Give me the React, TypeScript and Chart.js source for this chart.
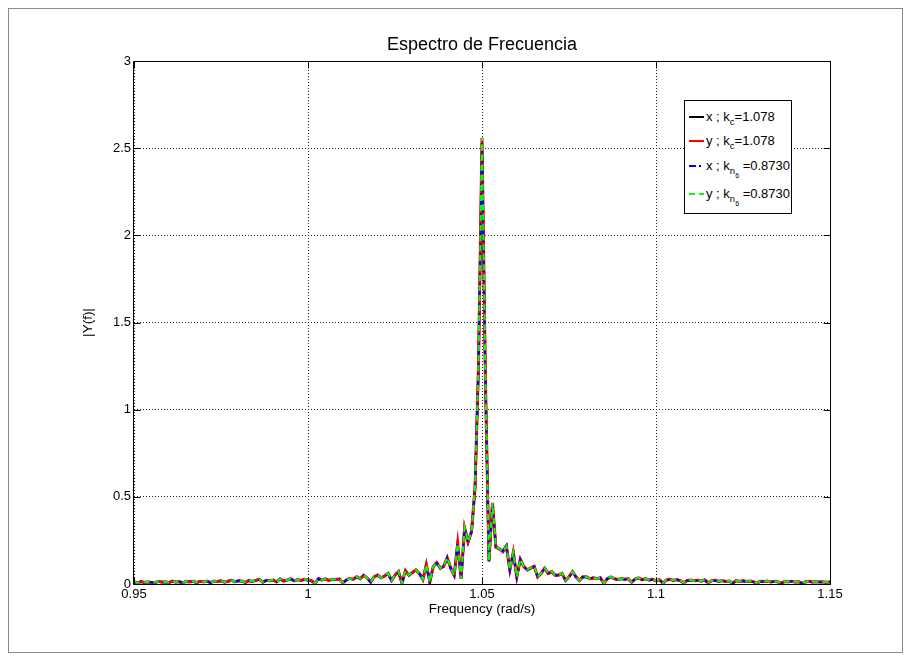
import React, { useEffect, useRef } from 'react';
import { Chart, registerables } from 'chart.js';

Chart.register(...registerables);

const chartTitle = 'Espectro de Frecuencia';
const xAxisTitle = 'Frequency (rad/s)';
const yAxisTitle = '|Y(f)|';

const freqStart = 0.95;
const freqStep = 0.001;

const magXkc = [
  0.012, 0.005, 0.015, 0.008, 0.012, 0.010, 0.006, 0.014, 0.010, 0.012,
  0.007, 0.015, 0.011, 0.013, 0.006, 0.016, 0.012, 0.014, 0.008, 0.015,
  0.013, 0.016, 0.007, 0.017, 0.014, 0.018, 0.010, 0.015, 0.022, 0.012,
  0.018, 0.016, 0.008, 0.019, 0.015, 0.020, 0.026, 0.010, 0.020, 0.018,
  0.022, 0.012, 0.028, 0.016, 0.022, 0.030, 0.018, 0.024, 0.020, 0.026,
  0.022, 0.018, 0.004, 0.030, 0.022, 0.028, 0.020, 0.026, 0.025, 0.028,
  0.006, 0.022, 0.032, 0.026, 0.040, 0.030, 0.050, 0.035, 0.010, 0.040,
  0.050, 0.035, 0.045, 0.060, 0.020, 0.050, 0.070, 0.004, 0.075, 0.050,
  0.065, 0.080, 0.060, 0.025, 0.110, 0.010, 0.100, 0.120, 0.090, 0.100,
  0.150, 0.090, 0.050, 0.230, 0.030, 0.320, 0.240, 0.300, 0.550, 1.250,
  2.530, 1.150, 0.130, 0.460, 0.210, 0.200, 0.190, 0.220, 0.080, 0.180,
  0.040, 0.140, 0.100, 0.080, 0.090, 0.100, 0.040, 0.060, 0.090, 0.060,
  0.070, 0.050, 0.050, 0.060, 0.020, 0.040, 0.070, 0.040, 0.020, 0.040,
  0.040, 0.030, 0.035, 0.030, 0.035, 0.004, 0.030, 0.040, 0.030, 0.025,
  0.030, 0.026, 0.030, 0.010, 0.028, 0.034, 0.024, 0.030, 0.022, 0.026,
  0.018, 0.024, 0.004, 0.022, 0.026, 0.020, 0.024, 0.018, 0.006, 0.020,
  0.022, 0.018, 0.020, 0.016, 0.022, 0.006, 0.018, 0.020, 0.015, 0.019,
  0.014, 0.016, 0.004, 0.018, 0.015, 0.017, 0.013, 0.016, 0.012, 0.005,
  0.015, 0.013, 0.016, 0.011, 0.014, 0.012, 0.004, 0.014, 0.012, 0.015,
  0.010, 0.013, 0.003, 0.012, 0.014, 0.010, 0.013, 0.011, 0.012, 0.009, 0.012,
];

const magYkc = [
  0.014, 0.006, 0.013, 0.010, 0.012, 0.009, 0.008, 0.015, 0.011, 0.013,
  0.008, 0.016, 0.010, 0.014, 0.007, 0.015, 0.013, 0.015, 0.009, 0.016,
  0.012, 0.017, 0.008, 0.016, 0.015, 0.019, 0.011, 0.016, 0.021, 0.013,
  0.019, 0.017, 0.009, 0.020, 0.016, 0.021, 0.027, 0.011, 0.021, 0.019,
  0.023, 0.013, 0.029, 0.017, 0.023, 0.031, 0.019, 0.025, 0.021, 0.027,
  0.023, 0.019, 0.005, 0.031, 0.023, 0.029, 0.021, 0.027, 0.026, 0.029,
  0.007, 0.023, 0.033, 0.027, 0.041, 0.031, 0.051, 0.036, 0.011, 0.041,
  0.051, 0.036, 0.046, 0.061, 0.021, 0.051, 0.072, 0.005, 0.077, 0.051,
  0.066, 0.082, 0.061, 0.026, 0.112, 0.011, 0.102, 0.122, 0.092, 0.102,
  0.152, 0.092, 0.051, 0.232, 0.031, 0.322, 0.242, 0.302, 0.555, 1.260,
  2.560, 1.160, 0.132, 0.465, 0.212, 0.203, 0.185, 0.215, 0.082, 0.182,
  0.041, 0.142, 0.101, 0.081, 0.092, 0.101, 0.041, 0.062, 0.091, 0.061,
  0.071, 0.051, 0.052, 0.061, 0.021, 0.041, 0.071, 0.041, 0.021, 0.041,
  0.041, 0.031, 0.036, 0.031, 0.036, 0.005, 0.031, 0.041, 0.031, 0.026,
  0.031, 0.027, 0.031, 0.011, 0.029, 0.035, 0.025, 0.031, 0.023, 0.027,
  0.019, 0.025, 0.005, 0.023, 0.027, 0.021, 0.025, 0.019, 0.007, 0.021,
  0.023, 0.019, 0.021, 0.017, 0.023, 0.007, 0.019, 0.021, 0.016, 0.020,
  0.015, 0.017, 0.005, 0.019, 0.016, 0.018, 0.014, 0.017, 0.013, 0.006,
  0.016, 0.014, 0.017, 0.012, 0.015, 0.013, 0.005, 0.015, 0.013, 0.016,
  0.011, 0.014, 0.004, 0.013, 0.015, 0.011, 0.014, 0.012, 0.013, 0.010, 0.013,
];

// The n6 runs overlay the c runs in the picture
const magXkn6 = magXkc;
const magYkn6 = magYkc;

const xTickValues = [0.95, 1, 1.05, 1.1, 1.15];
const xTickLabels = ['0.95', '1', '1.05', '1.1', '1.15'];
const yTickValues = [0, 0.5, 1, 1.5, 2, 2.5, 3];
const yTickLabels = ['0', '0.5', '1', '1.5', '2', '2.5', '3'];

const seriesNames = ['x', 'y', 'x', 'y'];
const seriesSub = ['c', 'c', 'n', 'n'];
const seriesSubSub = ['', '', '6', '6'];
const seriesK = ['=1.078', '=1.078', '=0.8730', '=0.8730'];
const seriesColors = ['#000000', '#ff0000', '#0000ff', '#00ff00'];
const seriesDash: number[][] = [[], [], [7, 3, 2, 3], [6, 4]];
const seriesWidth = [2.5, 3, 2, 2];

const FONT = "'Liberation Sans', Arial, Helvetica, sans-serif";
const W = 895;
const H = 645;

export default function App() {
  const ref = useRef<HTMLCanvasElement>(null);

  useEffect(() => {
    const canvas = ref.current;
    if (!canvas) return;
    const toPoints = (arr: number[]) =>
      arr.map((v, i) => ({ x: Math.round((freqStart + i * freqStep) * 10000) / 10000, y: v }));
    const seriesData = [magXkc, magYkc, magXkn6, magYkn6];

    const axesBox = {
      id: 'axesBox',
      afterDatasetsDraw(chart: any) {
        const { ctx, chartArea, scales } = chart;
        const L = Math.round(chartArea.left) - 0.5;
        const R = Math.round(chartArea.right) + 0.5;
        const T = Math.round(chartArea.top) + 0.5;
        const B = Math.round(chartArea.bottom) + 0.5;
        ctx.save();
        ctx.strokeStyle = '#000';
        ctx.lineWidth = 1;
        ctx.setLineDash([]);
        ctx.beginPath();
        ctx.rect(L, T, R - L, B - T);
        const tl = 7;
        xTickValues.forEach((v) => {
          const px = Math.round(scales.x.getPixelForValue(v)) + 0.5;
          ctx.moveTo(px, B);
          ctx.lineTo(px, B - tl);
          ctx.moveTo(px, T);
          ctx.lineTo(px, T + tl);
        });
        yTickValues.forEach((v) => {
          const py = Math.round(scales.y.getPixelForValue(v)) + 0.5;
          ctx.moveTo(L, py);
          ctx.lineTo(L + tl, py);
          ctx.moveTo(R, py);
          ctx.lineTo(R - tl, py);
        });
        ctx.stroke();
        // title centred over the axes
        ctx.fillStyle = '#000';
        ctx.font = `18px ${FONT}`;
        ctx.textAlign = 'center';
        ctx.textBaseline = 'alphabetic';
        ctx.fillText(chartTitle, (chartArea.left + chartArea.right) / 2, 41.5);
        ctx.restore();
      },
    };

    const chart = new Chart(canvas, {
      type: 'line',
      data: {
        datasets: seriesData.map((arr, i) => ({
          label: seriesNames[i] + ' ; k' + seriesSub[i] + seriesSubSub[i] + seriesK[i],
          data: toPoints(arr),
          borderColor: seriesColors[i],
          backgroundColor: seriesColors[i],
          borderWidth: seriesWidth[i],
          borderDash: seriesDash[i],
          pointRadius: 0,
          tension: 0,
          fill: false,
          order: 4 - i,
        })),
      },
      options: {
        animation: false,
        responsive: false,
        maintainAspectRatio: false,
        devicePixelRatio: 1,
        layout: { padding: { left: 0, right: 73, top: 53, bottom: 0 } },
        plugins: {
          legend: { display: false },
          tooltip: { enabled: false },
          title: { display: false },
        },
        scales: {
          x: {
            type: 'linear',
            min: 0.95,
            max: 1.15,
            afterBuildTicks: (s: any) => {
              s.ticks = xTickValues.map((v) => ({ value: v }));
            },
            afterFit: (s: any) => {
              s.height = H - 576;
            },
            ticks: {
              autoSkip: false,
              maxRotation: 0,
              padding: 3,
              color: '#000',
              font: { family: FONT, size: 13 },
              callback: (_v: any, i: number) => xTickLabels[i],
            },
            grid: { color: '#222', lineWidth: 1, drawTicks: false },
            border: { display: false, dash: [1, 2] },
            title: {
              display: true,
              text: xAxisTitle,
              color: '#000',
              font: { family: FONT, size: 13.5, lineHeight: 1.2 },
              padding: { top: 0, bottom: 35.5 },
            },
          },
          y: {
            type: 'linear',
            min: 0,
            max: 3,
            afterBuildTicks: (s: any) => {
              s.ticks = yTickValues.map((v) => ({ value: v }));
            },
            afterFit: (s: any) => {
              s.width = 126;
            },
            ticks: {
              autoSkip: false,
              padding: 3,
              color: '#000',
              font: { family: FONT, size: 13 },
              callback: (_v: any, i: number) => yTickLabels[i],
            },
            grid: { color: '#222', lineWidth: 1, drawTicks: false },
            border: { display: false, dash: [1, 2] },
            title: {
              display: true,
              text: yAxisTitle,
              color: '#000',
              font: { family: FONT, size: 13.5, lineHeight: 1.2 },
              padding: { top: 72, bottom: 0 },
            },
          },
        },
      },
      plugins: [axesBox],
    } as any);
    return () => chart.destroy();
  }, []);

  const rowCenters = [16, 40, 65, 93];

  return (
    <div style={{ position: 'relative', width: W, height: H, fontFamily: FONT }}>
      <canvas
        ref={ref}
        width={W}
        height={H}
        style={{ position: 'absolute', left: 0, top: 0, width: W, height: H }}
      />
      <div
        style={{
          position: 'absolute',
          left: 0,
          top: 0,
          width: W,
          height: H,
          boxSizing: 'border-box',
          border: '1px solid #8a8a8a',
          pointerEvents: 'none',
        }}
      />
      <div
        style={{
          position: 'absolute',
          left: 676,
          top: 92,
          width: 108,
          height: 114,
          boxSizing: 'border-box',
          border: '1px solid #000',
          background: '#fff',
        }}
      >
        {seriesNames.map((name, i) => (
          <div
            key={i}
            style={{
              position: 'absolute',
              left: 0,
              top: rowCenters[i] - 9,
              height: 18,
              width: 106,
              whiteSpace: 'nowrap',
            }}
          >
            <svg width={20} height={18} style={{ position: 'absolute', left: 0, top: 0 }}>
              <line
                x1={4}
                y1={9}
                x2={19}
                y2={9}
                stroke={seriesColors[i]}
                strokeWidth={2}
                strokeDasharray={seriesDash[i].length ? seriesDash[i].join(' ') : undefined}
              />
            </svg>
            <span
              style={{
                position: 'absolute',
                left: 21,
                top: 0,
                fontSize: 13,
                lineHeight: '18px',
                color: '#000',
              }}
            >
              {name + ' ; k'}
              <span style={{ fontSize: 9.5, position: 'relative', top: 4 }}>
                {seriesSub[i]}
                {seriesSubSub[i] ? (
                  <span style={{ fontSize: 7, position: 'relative', top: 4 }}>{seriesSubSub[i]}</span>
                ) : null}
              </span>
              {(seriesSubSub[i] ? ' ' : '') + seriesK[i]}
            </span>
          </div>
        ))}
      </div>
    </div>
  );
}
